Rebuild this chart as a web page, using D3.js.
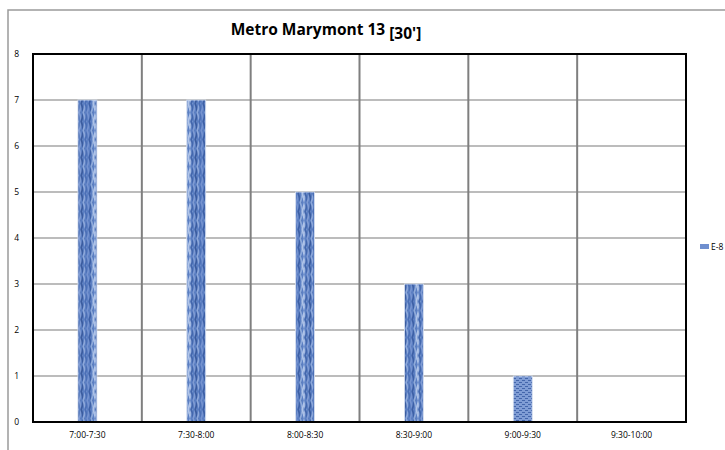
<!DOCTYPE html>
<html>
<head>
<meta charset="utf-8">
<script src="https://cdn.jsdelivr.net/npm/d3@7/dist/d3.min.js"></script>
<style>
  body { margin: 0; background: #fff; }
  text { font-family: "Open Sans", "Liberation Sans", sans-serif; fill: #000; }
</style>
</head>
<body>
<div id="chart"></div>
<script>
(function() {

    var width = 725;
    var height = 450;

    var categories = ["7:00-7:30", "7:30-8:00", "8:00-8:30", "8:30-9:00", "9:00-9:30", "9:30-10:00"];
    var values = [7, 7, 5, 3, 1, 0];
    var yTicks = [0, 1, 2, 3, 4, 5, 6, 7, 8];
    var seriesName = "E-8";

    var plot = {left: 33, right: 686, top: 54, bottom: 422};

    var svg = d3.select("#chart")
        .append("svg")
        .attr("width", width)
        .attr("height", height);

    // bar texture
    var defs = svg.append("defs");
    var pat = defs.append("pattern")
        .attr("id", "streaks")
        .attr("patternUnits", "userSpaceOnUse")
        .attr("width", 19)
        .attr("height", 18);
    pat.append("rect").attr("width", 19).attr("height", 18).attr("fill", "#5b7fc3");
    var streaks = [[0.5, "#a3bae3"], [2.5, "#4367ad"], [4.5, "#7f9bd3"], [6.5, "#3a5c9f"], [8.5, "#8ca7da"],
                   [10.5, "#4b6fb6"], [12.5, "#7593d0"], [14.5, "#3d60a6"], [16.5, "#8eaada"], [18.5, "#b0c4e8"]];
    streaks.forEach(function (s, i) {
        var w = i % 2 ? 1.2 : -1.2;
        pat.append("path")
            .attr("d", "M" + s[0] + ",0 L" + (s[0] + w) + ",4.5 L" + s[0] + ",9 L" + (s[0] - w) + ",13.5 L" + s[0] + ",18")
            .attr("stroke", s[1])
            .attr("stroke-width", 1.7)
            .attr("fill", "none");
    });

    var pat2 = defs.append("pattern")
        .attr("id", "dots")
        .attr("patternUnits", "userSpaceOnUse")
        .attr("width", 6)
        .attr("height", 4);
    pat2.append("rect").attr("width", 6).attr("height", 4).attr("fill", "#809dd5");
    pat2.append("rect").attr("x", 0).attr("y", 0).attr("width", 3).attr("height", 1).attr("fill", "#4466ab");
    pat2.append("rect").attr("x", 3).attr("y", 2).attr("width", 3).attr("height", 1).attr("fill", "#4466ab");

    // outer chart border
    svg.append("rect")
        .attr("x", 8).attr("y", 10)
        .attr("width", width).attr("height", height)
        .attr("fill", "none")
        .attr("stroke", "#9a9a9a")
        .attr("stroke-width", 1.5);

    var x = d3.scaleBand()
        .domain(categories)
        .range([plot.left, plot.right]);

    var y = d3.scaleLinear()
        .domain([0, 8])
        .range([plot.bottom, plot.top]);

    // horizontal gridlines
    svg.append("g")
        .selectAll("line")
        .data(yTicks.slice(1, -1))
        .enter().append("line")
        .attr("x1", plot.left).attr("x2", plot.right)
        .attr("y1", function (d) { return y(d); })
        .attr("y2", function (d) { return y(d); })
        .attr("stroke", "#a6a6a6")
        .attr("stroke-width", 1.5);

    // vertical gridlines
    svg.append("g")
        .selectAll("line")
        .data(categories.slice(1))
        .enter().append("line")
        .attr("x1", function (d) { return x(d); })
        .attr("x2", function (d) { return x(d); })
        .attr("y1", plot.top).attr("y2", plot.bottom)
        .attr("stroke", "#7f7f7f")
        .attr("stroke-width", 2);

    // bars
    var barW = 19;
    svg.append("g")
        .selectAll("rect")
        .data(values)
        .enter().append("rect")
        .attr("x", function (d, i) { return x(categories[i]) + x.bandwidth() / 2 - barW / 2; })
        .attr("y", function (d) { return y(d); })
        .attr("width", barW)
        .attr("height", function (d) { return y(0) - y(d); })
        .attr("fill", function (d, i) { return i === 4 ? "url(#dots)" : "url(#streaks)"; })
        .attr("stroke", "#dbe3f2")
        .attr("stroke-width", function (d) { return d > 0 ? 0.8 : 0; });

    // plot frame
    svg.append("rect")
        .attr("x", plot.left).attr("y", plot.top)
        .attr("width", plot.right - plot.left)
        .attr("height", plot.bottom - plot.top)
        .attr("fill", "none")
        .attr("stroke", "#000")
        .attr("stroke-width", 2);

    // y axis labels
    var yAxis = d3.axisLeft(y).tickValues(yTicks).tickSize(0).tickPadding(14);
    var gy = svg.append("g")
        .attr("transform", "translate(" + plot.left + ",0)")
        .call(yAxis);
    gy.select(".domain").remove();
    gy.selectAll("text")
        .style("font-size", "8.5px")
        .style("font-family", "'Open Sans', 'Liberation Sans', sans-serif")
        .attr("fill", "#000");

    // x axis labels
    var xAxis = d3.axisBottom(x).tickSize(0).tickPadding(10);
    var gx = svg.append("g")
        .attr("transform", "translate(0," + plot.bottom + ")")
        .call(xAxis);
    gx.select(".domain").remove();
    gx.selectAll("text")
        .style("font-size", "8.5px")
        .style("font-family", "'Open Sans', 'Liberation Sans', sans-serif")
        .attr("fill", "#000");

    // title
    var title = svg.append("text")
        .attr("x", 326)
        .attr("y", 35)
        .attr("text-anchor", "middle")
        .style("font-size", "15.5px")
        .style("font-weight", "bold");
    title.append("tspan").text("Metro Marymont 13 ");
    title.append("tspan").attr("dy", 4).text("[30']");

    // legend
    svg.append("rect")
        .attr("x", 700).attr("y", 244)
        .attr("width", 9).attr("height", 5)
        .attr("fill", "#6f8fcf");
    svg.append("text")
        .attr("x", 711).attr("y", 250)
        .style("font-size", "8.5px")
        .text(seriesName);

})();
</script>
</body>
</html>
